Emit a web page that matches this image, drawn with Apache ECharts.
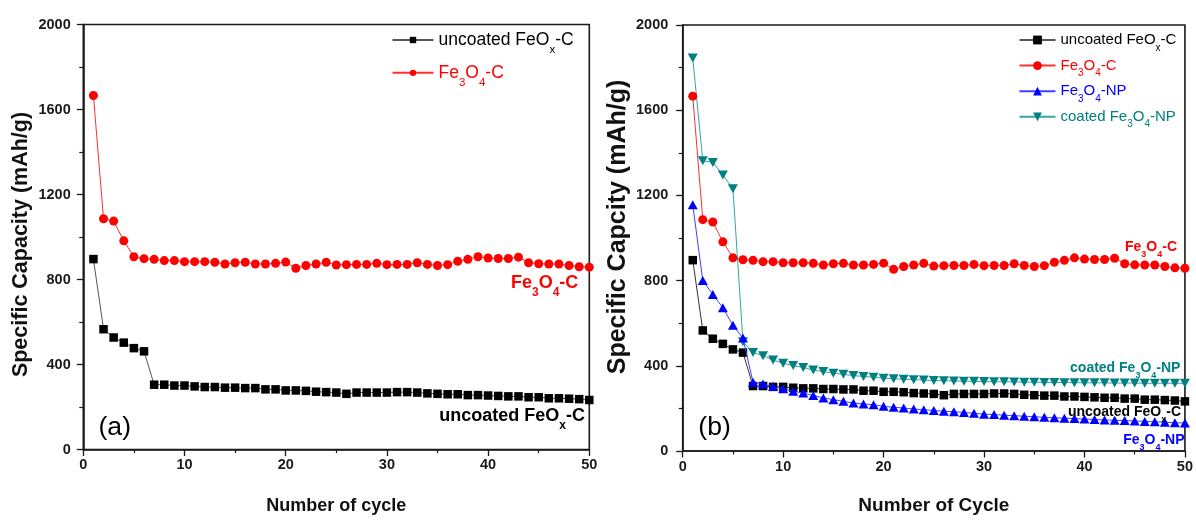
<!DOCTYPE html>
<html>
<head>
<meta charset="utf-8">
<script src="https://cdn.jsdelivr.net/npm/echarts@6/dist/echarts.min.js"></script>
<style>
  html, body { margin: 0; padding: 0; background: #fff; }
  #chart { width: 1196px; height: 520px; }
</style>
</head>
<body>
<div id="chart"></div>
<script>
// Cycle numbers shared by both panels
const cycles = [1, 2, 3, 4, 5, 6, 7, 8, 9, 10, 11, 12, 13, 14, 15, 16, 17, 18, 19, 20,
  21, 22, 23, 24, 25, 26, 27, 28, 29, 30, 31, 32, 33, 34, 35, 36, 37, 38, 39, 40,
  41, 42, 43, 44, 45, 46, 47, 48, 49, 50];

// Specific capacity (mAh/g) per cycle
const uncoatedFeOxC = [896, 566, 527, 503, 477, 462, 305, 305, 301, 301, 297, 294, 294, 291, 291, 289, 289, 283, 283, 278,
  278, 276, 272, 270, 268, 262, 268, 268, 268, 268, 270, 270, 268, 264, 262, 260, 260, 256, 256, 254,
  252, 250, 250, 246, 246, 241, 241, 239, 237, 233];
const fe3o4C = [1666, 1086, 1075, 982, 907, 898, 895, 889, 889, 884, 884, 884, 881, 873, 879, 881, 873, 873, 876, 882,
  853, 866, 873, 881, 868, 870, 871, 871, 876, 870, 871, 871, 879, 871, 866, 870, 886, 895, 907, 901,
  899, 899, 905, 879, 874, 873, 873, 866, 860, 858];
const fe3o4NP = [1156, 800, 735, 672, 590, 530, 323, 314, 303, 292, 280, 272, 261, 249, 241, 233, 225, 221, 217, 210,
  205, 202, 197, 194, 190, 187, 184, 181, 177, 173, 171, 168, 166, 163, 161, 158, 156, 154, 152, 150,
  148, 146, 144, 143, 141, 139, 137, 135, 133, 131];
const coatedFe3o4NP = [1845, 1363, 1355, 1296, 1231, 513, 463, 447, 427, 412, 401, 392, 380, 373, 365, 360, 354, 350, 346, 342,
  339, 337, 335, 333, 331, 330, 329, 328, 327, 326, 325, 325, 324, 323, 323, 322, 322, 321, 321, 320,
  320, 320, 319, 319, 319, 318, 318, 318, 318, 318];

// Axis tick values
const xTicks = [0, 10, 20, 30, 40, 50];
const yTicks = [0, 400, 800, 1200, 1600, 2000];

const NAME_UNCOATED = 'uncoated FeOx-C';
const NAME_FE3O4C = 'Fe3O4-C';
const NAME_NP = 'Fe3O4-NP';
const NAME_COATED = 'coated Fe3O4-NP';

const FONT = '"Liberation Sans", Arial, sans-serif';
const AXIS_COLOR = '#1a1a1a';

// Rich-text markup with subscripts for each series name
const richName = {};
richName[NAME_UNCOATED] = '{m|uncoated FeO}{s|x}{m|-C}';
richName[NAME_FE3O4C] = '{m|Fe}{s|3}{m|O}{s|4}{m|-C}';
richName[NAME_NP] = '{m|Fe}{s|3}{m|O}{s|4}{m|-NP}';
richName[NAME_COATED] = '{m|coated Fe}{s|3}{m|O}{s|4}{m|-NP}';

function toSeries(values) {
  return cycles.map((c, i) => [c, values[i]]);
}

// Top padding that drops a subscript of size s about d px below the baseline
// of main text of size F (both tokens top-aligned in an F-high line).
function subPad(F, s, d) {
  return F / 2 + 0.35 * F + d - s / 2;
}

function legendRich(F, s, d) {
  return {
    m: { fontFamily: FONT, fontSize: F, lineHeight: F, verticalAlign: 'top' },
    s: { fontFamily: FONT, fontSize: s, lineHeight: s, verticalAlign: 'top', padding: [subPad(F, s, d), 0, 0, 0] }
  };
}

function labelRich(F, s, d, color, weight) {
  return {
    m: { fontFamily: FONT, fontSize: F, fontWeight: weight, lineHeight: F, verticalAlign: 'top', fill: color },
    s: { fontFamily: FONT, fontSize: s, fontWeight: weight, lineHeight: s, verticalAlign: 'top', padding: [subPad(F, s, d), 0, 0, 0], fill: color }
  };
}

function xAxisCfg(gridIndex, name, fontSize, gap) {
  return {
    type: 'value', gridIndex: gridIndex, min: xTicks[0], max: xTicks[xTicks.length - 1], interval: xTicks[1] - xTicks[0],
    name: name, nameLocation: 'middle', nameGap: gap,
    nameTextStyle: { fontFamily: FONT, fontWeight: 'bold', fontSize: fontSize, color: '#111' },
    axisLine: { show: true, lineStyle: { color: AXIS_COLOR, width: 1.6 } },
    axisTick: { show: true, inside: false, length: 6.5, lineStyle: { color: AXIS_COLOR, width: 1.3 } },
    minorTick: { show: true, splitNumber: 2, length: 3.5, lineStyle: { color: AXIS_COLOR, width: 1.2 } },
    axisLabel: { margin: 8, fontFamily: FONT, fontWeight: 'bold', fontSize: 14.5, color: '#1a1a1a', formatter: v => String(v) },
    splitLine: { show: false }
  };
}

function yAxisCfg(gridIndex, name, fontSize, gap, pad, labelMargin) {
  return {
    type: 'value', gridIndex: gridIndex, min: yTicks[0], max: yTicks[yTicks.length - 1], interval: yTicks[1] - yTicks[0],
    name: name, nameLocation: 'middle', nameGap: gap,
    nameTextStyle: { fontFamily: FONT, fontWeight: 'bold', fontSize: fontSize, color: '#111', padding: pad },
    axisLine: { show: true, lineStyle: { color: AXIS_COLOR, width: 1.6 } },
    axisTick: { show: true, inside: false, length: 6.5, lineStyle: { color: AXIS_COLOR, width: 1.3 } },
    minorTick: { show: true, splitNumber: 2, length: 4, lineStyle: { color: AXIS_COLOR, width: 1.2 } },
    axisLabel: { margin: labelMargin, fontFamily: FONT, fontWeight: 'bold', fontSize: 14.5, color: '#1a1a1a', formatter: v => String(v) },
    splitLine: { show: false }
  };
}

function lineSeries(name, values, axisIndex, symbol, size, markerColor, lineColor, z, rotate) {
  return {
    type: 'line', name: name, data: toSeries(values),
    xAxisIndex: axisIndex, yAxisIndex: axisIndex,
    symbol: symbol, symbolSize: size, symbolRotate: rotate || 0,
    showAllSymbol: true, z: z,
    itemStyle: { color: markerColor, borderWidth: 0 },
    lineStyle: { color: lineColor, width: 1 },
    emphasis: { disabled: true },
    animation: false
  };
}

function annotation(name, x, y, F, s, d, color) {
  return {
    type: 'text', x: x, y: y, z: 10,
    style: { text: richName[name], align: 'right', verticalAlign: 'middle', rich: labelRich(F, s, d, color, 'bold') }
  };
}

const option = {
  backgroundColor: '#fff',
  animation: false,
  grid: [
    { left: 83.3, top: 24.5, width: 506, height: 429, show: true, borderColor: AXIS_COLOR, borderWidth: 1.6, containLabel: false },
    { left: 682.7, top: 25, width: 505.6, height: 428.3, show: true, borderColor: AXIS_COLOR, borderWidth: 1.6, containLabel: false }
  ],
  xAxis: [
    xAxisCfg(0, 'Number of cycle', 18, 47.5),
    xAxisCfg(1, 'Number of Cycle', 19, 45)
  ],
  yAxis: [
    yAxisCfg(0, 'Specific Capacity (mAh/g)', 21.5, 51, [0, 15, 0, 0], 12.6),
    yAxisCfg(1, 'Specific Capcity (mAh/g)', 25, 52.5, [0, 0, 0, 22], 14.4)
  ],
  legend: [
    {
      orient: 'vertical', left: 391.5, top: 31.25, padding: 0, itemGap: 8.2,
      itemWidth: 41, itemHeight: 8,
      selectedMode: false,
      formatter: name => richName[name],
      textStyle: { fontFamily: FONT, fontSize: 17.5, rich: legendRich(17.5, 11.5, 3.5) },
      data: [
        { name: NAME_UNCOATED, textStyle: { color: '#000' } },
        { name: NAME_FE3O4C, textStyle: { color: '#ff0000' } }
      ]
    },
    {
      orient: 'vertical', left: 1018.5, top: 32.5, padding: 0, itemGap: 5.35,
      itemWidth: 36, itemHeight: 11,
      selectedMode: false,
      formatter: name => richName[name],
      textStyle: { fontFamily: FONT, fontSize: 15, rich: legendRich(15, 10, 2.5) },
      data: [
        { name: NAME_UNCOATED, textStyle: { color: '#000' } },
        { name: NAME_FE3O4C, textStyle: { color: '#ff0000' } },
        { name: NAME_NP, textStyle: { color: '#0000ff' } },
        { name: NAME_COATED, textStyle: { color: '#008080' } }
      ]
    }
  ],
  series: [
    // panel (a)
    lineSeries(NAME_UNCOATED, uncoatedFeOxC, 0, 'rect', 8.5, '#000', '#555', 3),
    lineSeries(NAME_FE3O4C, fe3o4C, 0, 'circle', 9, '#ff0000', '#ff3030', 3),
    // panel (b)
    lineSeries(NAME_COATED, coatedFe3o4NP, 1, 'triangle', [10, 9], '#008080', '#35a5a5', 2, 180),
    lineSeries(NAME_FE3O4C, fe3o4C, 1, 'circle', 9, '#ff0000', '#ff3030', 3),
    lineSeries(NAME_UNCOATED, uncoatedFeOxC, 1, 'rect', 8.5, '#000', '#333', 4),
    lineSeries(NAME_NP, fe3o4NP, 1, 'triangle', [10, 9], '#0000ff', '#4040ff', 5)
  ],
  graphic: [
    annotation(NAME_FE3O4C, 578.3, 283, 18, 12, 3, '#ff0000'),
    annotation(NAME_UNCOATED, 585, 416.4, 18, 12, 3, '#000'),
    { type: 'text', x: 98.5, y: 428.1, z: 10,
      style: { text: '(a)', font: '26.6px ' + FONT, fill: '#000', align: 'left', verticalAlign: 'middle' } },
    annotation(NAME_FE3O4C, 1177, 246.8, 14, 9, 2.5, '#ff0000'),
    annotation(NAME_COATED, 1180.4, 368.4, 14, 9, 2.5, '#008080'),
    annotation(NAME_UNCOATED, 1181, 411.8, 14, 9, 2.5, '#000'),
    annotation(NAME_NP, 1184.5, 440.1, 14, 9, 2.5, '#0000ff'),
    { type: 'text', x: 698.3, y: 428.1, z: 10,
      style: { text: '(b)', font: '26.6px ' + FONT, fill: '#000', align: 'left', verticalAlign: 'middle' } }
  ]
};

const chart = echarts.init(document.getElementById('chart'), null, { renderer: 'canvas' });
chart.setOption(option);
</script>
</body>
</html>
